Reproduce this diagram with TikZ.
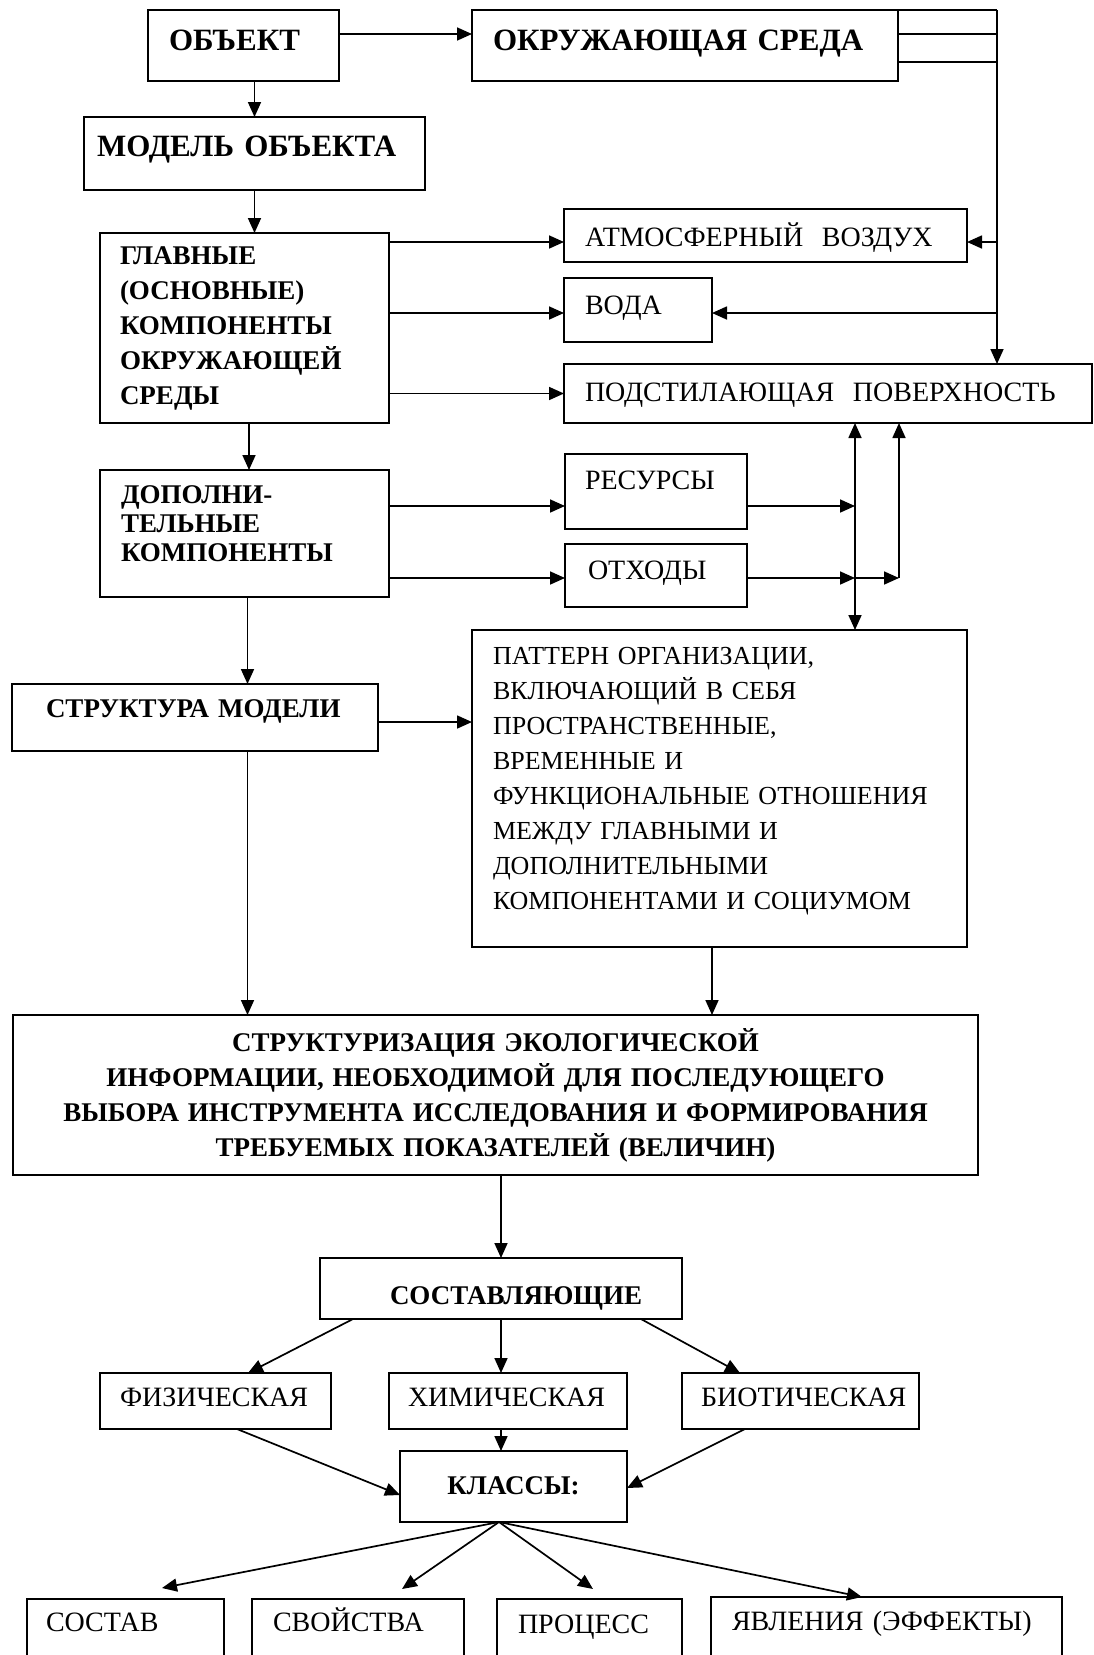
\documentclass[tikz,border=0pt]{standalone}
\usepackage{fontspec}
\setmainfont{Liberation Serif}
\usetikzlibrary{positioning, arrows.meta}

\begin{document}
\begin{tikzpicture}[
    x=1pt, y=-1pt,
    every node/.style={font=\fontsize{28}{35}\selectfont},
    blok/.style={draw, line width=1.8pt, anchor=north west, inner ysep=0pt,
        outer sep=0pt, align=left},
    krupno/.style={font=\fontsize{31}{37}\selectfont\bfseries},
    zhirno/.style={font=\fontsize{27}{35}\selectfont\bfseries},
    strelka/.style={-{Triangle[length=15pt, width=13pt]}, line width=1.7pt},
    dvoinaya/.style={{Triangle[length=15pt, width=13pt]}-{Triangle[length=15pt, width=13pt]},
        line width=1.7pt},
    linia/.style={line width=1.7pt}
]
\path[use as bounding box, clip] (0,0) rectangle (1094,1655);

\node[blok, krupno, text width=149pt, inner xsep=21pt, text height=40pt, text depth=31pt] (obekt) at (148,10) {ОБЪЕКТ};
\node[blok, krupno, right=133pt of obekt.north east, anchor=north west, text width=384pt, inner xsep=21pt,
    text height=40pt, text depth=31pt] (sreda) {ОКРУЖАЮЩАЯ~СРЕДА};
\node[blok, krupno, text width=315pt, inner xsep=13pt, text height=39pt, text depth=34pt] (model) at (84,117) {МОДЕЛЬ~ОБЪЕКТА};
\node[blok, zhirno, text width=249pt, inner xsep=20pt, minimum height=190pt] (glavnye) at (100,233)
    {ГЛАВНЫЕ\\(ОСНОВНЫЕ)\\КОМПОНЕНТЫ\\ОКРУЖАЮЩЕЙ\\СРЕДЫ};
\node[blok, text width=361pt, inner xsep=21pt, text height=37pt, text depth=16pt] (vozduh) at (564,209) {АТМОСФЕРНЫЙ~~ВОЗДУХ};
\node[blok, below=16pt of vozduh.south west, anchor=north west, text width=106pt, inner xsep=21pt,
    text height=36pt, text depth=28pt] (voda) {ВОДА};
\node[blok, below=22pt of voda.south west, anchor=north west, text width=486pt, inner xsep=21pt,
    text height=37pt, text depth=22pt] (poverh) {ПОДСТИЛАЮЩАЯ~~ПОВЕРХНОСТЬ};
\node[blok, font=\fontsize{27}{29}\selectfont\bfseries, text width=247pt, inner xsep=21pt, minimum height=127pt] (dopoln) at (100,470)
    {ДОПОЛНИ-\\ТЕЛЬНЫЕ\\КОМПОНЕНТЫ\rule[-19pt]{0pt}{0pt}};
\node[blok, text width=142pt, inner xsep=20pt, text height=35pt, text depth=40pt] (resursy) at (565,454) {РЕСУРСЫ};
\node[blok, below=15pt of resursy.south west, anchor=north west, text width=136pt, inner xsep=23pt,
    text height=35pt, text depth=28pt] (othody) {ОТХОДЫ};
\node[blok, font=\fontsize{26}{35}\selectfont, text width=453pt, inner xsep=21pt, minimum height=317pt] (pattern) at (472,630)
    {ПАТТЕРН~ОРГАНИЗАЦИИ,\\ВКЛЮЧАЮЩИЙ~В~СЕБЯ\\ПРОСТРАНСТВЕННЫЕ,\\ВРЕМЕННЫЕ~И\\ФУНКЦИОНАЛЬНЫЕ~ОТНОШЕНИЯ\\МЕЖДУ~ГЛАВНЫМИ~И\\ДОПОЛНИТЕЛЬНЫМИ\\КОМПОНЕНТАМИ~И~СОЦИУМОМ\rule[-20pt]{0pt}{0pt}};
\node[blok, zhirno, text width=298pt, inner xsep=34pt, text height=33pt, text depth=34pt] (struktura) at (12,684) {СТРУКТУРА~МОДЕЛИ};
\node[blok, zhirno, align=center, text width=945pt, inner xsep=10pt, minimum height=160pt] (info) at (13,1015)
    {СТРУКТУРИЗАЦИЯ~ЭКОЛОГИЧЕСКОЙ\\ИНФОРМАЦИИ,~НЕОБХОДИМОЙ~ДЛЯ~ПОСЛЕДУЮЩЕГО\\ВЫБОРА~ИНСТРУМЕНТА~ИССЛЕДОВАНИЯ~И~ФОРМИРОВАНИЯ\\ТРЕБУЕМЫХ~ПОКАЗАТЕЛЕЙ~(ВЕЛИЧИН)};
\node[blok, zhirno, text width=222pt, inner xsep=70pt, text height=46pt, text depth=15pt] (sostavl) at (320,1258) {СОСТАВЛЯЮЩИЕ};
\node[blok, text width=191pt, inner xsep=20pt, text height=33pt, text depth=23pt] (fiz) at (100,1373) {ФИЗИЧЕСКАЯ};
\node[blok, right=58pt of fiz.north east, anchor=north west, text width=200pt, inner xsep=19pt,
    text height=33pt, text depth=23pt] (him) {ХИМИЧЕСКАЯ};
\node[blok, right=55pt of him.north east, anchor=north west, text width=199pt, inner xsep=19pt,
    text height=33pt, text depth=23pt] (bio) {БИОТИЧЕСКАЯ};
\node[blok, zhirno, align=center, minimum width=227pt, inner xsep=0pt, text height=43pt, text depth=28pt] (klassy) at (400,1451) {КЛАССЫ:};
\node[blok, text width=159pt, inner xsep=19pt, text height=32pt, text depth=70pt] (sostav) at (27,1599) {СОСТАВ};
\node[blok, text width=170pt, inner xsep=21pt, text height=32pt, text depth=70pt] (svoistva) at (252,1599) {СВОЙСТВА};
\node[blok, text width=143pt, inner xsep=21pt, text height=34pt, text depth=70pt] (process) at (497,1599) {ПРОЦЕСС};
\node[blok, text width=309pt, inner xsep=21pt, text height=33pt, text depth=70pt] (yavlenia) at (711,1597) {ЯВЛЕНИЯ~(ЭФФЕКТЫ)};

\coordinate (shina) at ([xshift=99pt]sreda.north east);
\coordinate (lev) at ([xshift=291pt]poverh.south west);
\coordinate (prav) at ([xshift=335pt]poverh.south west);
\coordinate (razv) at ([xshift=-14.5pt]klassy.south);

\draw[strelka] ([yshift=11.5pt]obekt.east) -- ([yshift=11.5pt]obekt.east -| sreda.west);
\draw[linia] (sreda.north east) -- (shina);
\draw[linia] ([yshift=11.5pt]sreda.east) -- ([yshift=11.5pt]sreda.east -| shina);
\draw[linia] ([yshift=-16.5pt]sreda.east) -- ([yshift=-16.5pt]sreda.east -| shina);
\draw[strelka] (shina) -- (shina |- poverh.north);
\draw[strelka] ([yshift=-6.5pt]vozduh.east -| shina) -- ([yshift=-6.5pt]vozduh.east);
\draw[strelka] ([yshift=-3pt]voda.east -| shina) -- ([yshift=-3pt]voda.east);

\draw[strelka] (model.north |- obekt.south) -- (model.north);
\draw[strelka] (model.south) -- (model.south |- glavnye.north);
\draw[strelka] ([yshift=-6.5pt]vozduh.west -| glavnye.east) -- ([yshift=-6.5pt]vozduh.west);
\draw[strelka] ([yshift=-3pt]voda.west -| glavnye.east) -- ([yshift=-3pt]voda.west);
\draw[strelka] (poverh.west -| glavnye.east) -- (poverh.west);
\draw[strelka] ([xshift=4.5pt]glavnye.south) -- ([xshift=4.5pt]dopoln.north);

\draw[strelka] ([yshift=-14.5pt]resursy.west -| dopoln.east) -- ([yshift=-14.5pt]resursy.west);
\draw[strelka] ([yshift=-2.5pt]othody.west -| dopoln.east) -- ([yshift=-2.5pt]othody.west);
\draw[strelka] ([yshift=-14.5pt]resursy.east) -- ([yshift=-14.5pt]resursy.east -| lev);
\draw[strelka] ([yshift=-2.5pt]othody.east) -- ([yshift=-2.5pt]othody.east -| lev);
\draw[strelka] ([yshift=-2.5pt]othody.east -| lev) -- ([yshift=-2.5pt]othody.east -| prav);
\draw[strelka] ([yshift=-2.5pt]othody.east -| prav) -- (prav);
\draw[dvoinaya] (lev) -- (lev |- pattern.north);

\draw[strelka] ([xshift=3pt]dopoln.south) -- ([xshift=3pt]dopoln.south |- struktura.north);
\draw[strelka] ([yshift=-4.5pt]struktura.east) -- ([yshift=-4.5pt]struktura.east -| pattern.west);
\draw[strelka] ([xshift=3pt]dopoln.south |- struktura.south) -- ([xshift=3pt]dopoln.south |- info.north);
\draw[strelka] ([xshift=-7.5pt]pattern.south) -- ([xshift=-7.5pt]pattern.south |- info.north);

\draw[strelka] (sostavl.north |- info.south) -- (sostavl.north);
\draw[strelka] ([xshift=33pt]sostavl.south west) -- ([xshift=32.5pt]fiz.north);
\draw[strelka] (sostavl.south) -- (sostavl.south |- him.north);
\draw[strelka] ([xshift=-41pt]sostavl.south east) -- ([xshift=-60.5pt]bio.north);
\draw[strelka] ([xshift=21.5pt]fiz.south) -- ([yshift=-8.5pt]klassy.west);
\draw[strelka] (him.south -| sostavl.south) -- (klassy.north -| sostavl.south);
\draw[strelka] ([xshift=-55.5pt]bio.south) -- ([yshift=-1.5pt]klassy.east);

\draw[strelka] (razv) -- ([xshift=36.5pt, yshift=11pt]sostav.north);
\draw[strelka] (razv) -- ([xshift=44pt, yshift=10pt]svoistva.north);
\draw[strelka] (razv) -- ([xshift=3.5pt, yshift=10pt]process.north);
\draw[strelka] (razv) -- ([xshift=-24.5pt]yavlenia.north);
\end{tikzpicture}
\end{document}
